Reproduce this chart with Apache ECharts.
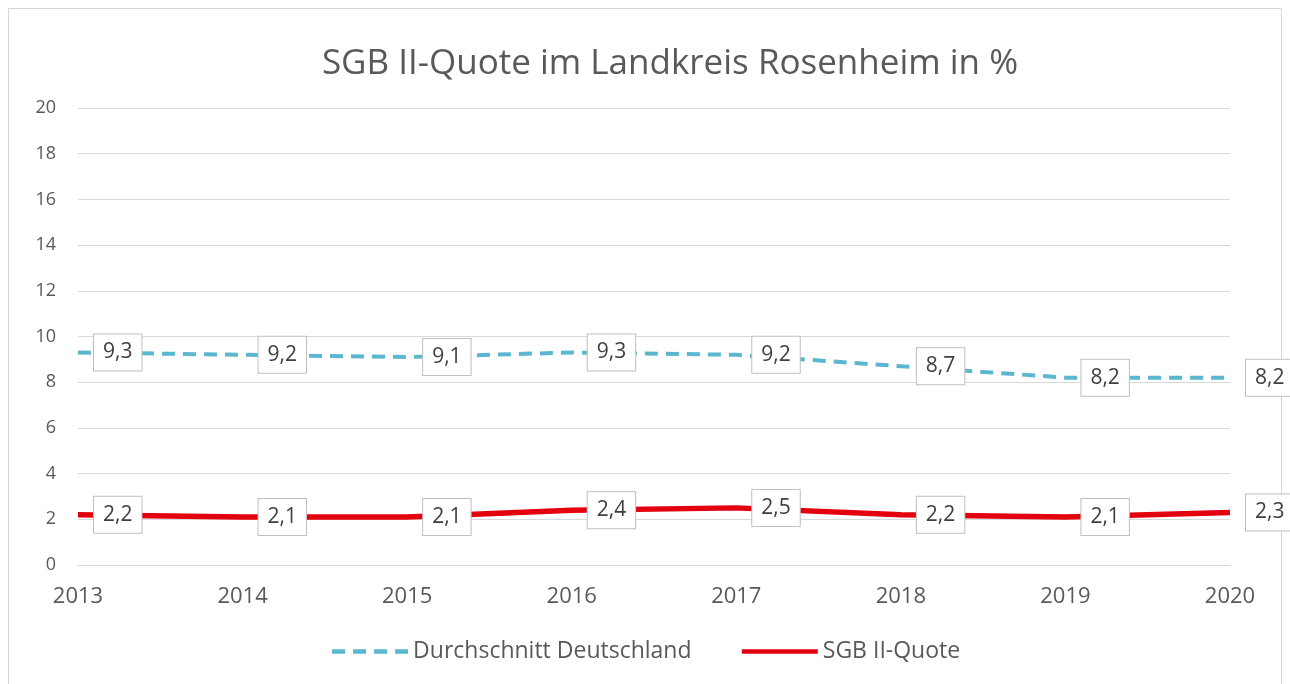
<!DOCTYPE html>
<html>
<head>
<meta charset="utf-8">
<script src="https://cdn.jsdelivr.net/npm/echarts@6/dist/echarts.min.js"></script>
<style>
html,body{margin:0;padding:0;background:#fff;}
#c{width:1290px;height:684px;}
</style>
</head>
<body>
<div id="c"></div>
<script>
const years = ['2013','2014','2015','2016','2017','2018','2019','2020'];
const deutschland = [9.3, 9.2, 9.1, 9.3, 9.2, 8.7, 8.2, 8.2];
const sgbQuote = [2.2, 2.1, 2.1, 2.4, 2.5, 2.2, 2.1, 2.3];
const yTicks = { min: 0, max: 20, interval: 2 };

const FONT = '"Open Sans", Lato, sans-serif';
const labelStyle = {
  show: true,
  position: 'right',
  distance: 16,
  formatter: p => p.value.toFixed(1).replace('.', ','),
  color: '#404040',
  fontSize: 21,
  fontFamily: FONT,
  backgroundColor: '#ffffff',
  borderColor: '#bfbfbf',
  borderWidth: 1,
  padding: [8, 9, 7, 9]
};

const chart = echarts.init(document.getElementById('c'), null, {renderer: 'canvas'});
chart.setOption({
  animation: false,
  backgroundColor: '#ffffff',
  textStyle: {fontFamily: FONT},
  graphic: [{
    type: 'rect',
    shape: {x: 8.5, y: 8.5, width: 1273, height: 700},
    style: {fill: 'none', stroke: '#d4d4d4', lineWidth: 1},
    z: -1
  }],
  title: {
    text: 'SGB II-Quote im Landkreis Rosenheim in %',
    left: 665,
    textAlign: 'center',
    top: 42,
    textStyle: {fontSize: 35, fontWeight: 'normal', color: '#595959', fontFamily: FONT}
  },
  legend: {
    bottom: 16,
    left: 'center',
    itemWidth: 76,
    itemHeight: 14,
    itemGap: 48,
    itemStyle: {opacity: 0},
    lineStyle: {width: 4.5},
    textStyle: {fontSize: 23, color: '#595959', fontFamily: FONT},
    data: ['Durchschnitt Deutschland', 'SGB II-Quote']
  },
  grid: {left: 78, right: 60, top: 108, bottom: 119, containLabel: false},
  xAxis: {
    type: 'category',
    data: years,
    boundaryGap: false,
    axisLine: {lineStyle: {color: '#d9d9d9'}},
    axisTick: {show: false},
    axisLabel: {color: '#595959', fontSize: 22, margin: 21, fontFamily: FONT}
  },
  yAxis: {
    type: 'value',
    min: yTicks.min,
    max: yTicks.max,
    interval: yTicks.interval,
    axisLine: {show: false},
    axisTick: {show: false},
    axisLabel: {color: '#595959', fontSize: 18, margin: 22, fontFamily: FONT},
    splitLine: {lineStyle: {color: '#d9d9d9', width: 1}}
  },
  series: [
    {
      name: 'Durchschnitt Deutschland',
      type: 'line',
      data: deutschland,
      symbol: 'circle',
      symbolSize: 0,
      color: '#5ab7cf',
      lineStyle: {color: '#5ab7cf', width: 4, type: [13, 8]},
      label: labelStyle,
      emphasis: {disabled: true},
      z: 2
    },
    {
      name: 'SGB II-Quote',
      type: 'line',
      data: sgbQuote,
      symbol: 'circle',
      symbolSize: 0,
      color: '#e3000f',
      lineStyle: {color: '#e3000f', width: 5.5},
      label: labelStyle,
      emphasis: {disabled: true},
      z: 3
    }
  ]
});
</script>
</body>
</html>
